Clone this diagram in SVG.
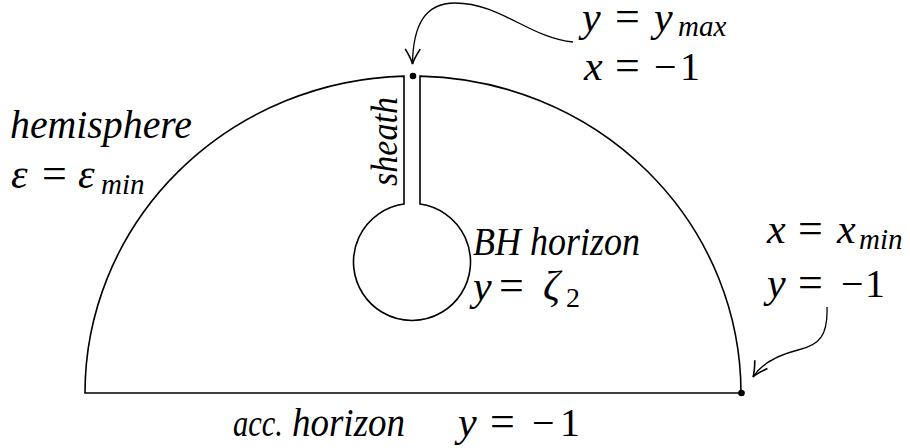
<svg xmlns="http://www.w3.org/2000/svg" width="910" height="448" viewBox="0 0 910 448">
<style>
text{font-family:"Liberation Serif",serif;font-size:40px;fill:#000}
.i{font-style:italic;font-size:42px}
.w{font-style:italic;font-size:40px}
.s{font-size:29px;font-style:italic}
.eq{font-size:44px}
.outline{fill:none;stroke:#000;stroke-width:1.6}
.conn{fill:none;stroke:#000;stroke-width:1.3}
</style>
<defs>
<marker id="ah" markerUnits="userSpaceOnUse" orient="auto" markerWidth="20" markerHeight="20" refX="0" refY="0" viewBox="-14 -8 16 16" overflow="visible">
<path d="M -12 -6 Q -4 -1 0 0 Q -4 1 -12 6" fill="none" stroke="#000" stroke-width="1.3"/>
</marker>
</defs>
<rect width="910" height="448" fill="#fff"/>
<g id="domain">
<path class="outline" d="M 85 393 A 328 317 0 0 1 404 76.1 L 404 204 A 58.5 58.5 0 1 0 420 204 L 420 76.1 A 328 317 0 0 1 741 393 Z"/>
<circle cx="413" cy="76" r="3.3"/>
<circle cx="741.5" cy="393" r="3.3"/>
</g>
<g id="connectors">
<path class="conn" d="M 573 42 C 530 38, 500 3, 455 3 C 425 3, 413 25, 412.5 64" marker-end="url(#ah)"/>
<path class="conn" d="M 827 307 C 828 335, 820 345, 798 350 C 778 355, 762 363, 753 377" marker-end="url(#ah)"/>
</g>
<g id="label-hemisphere">
<text class="w" x="10" y="138" textLength="182" lengthAdjust="spacingAndGlyphs">hemisphere</text>
<text y="188"><tspan class="i" x="11">ε</tspan><tspan class="eq" x="42">=</tspan><tspan class="i" x="78">ε</tspan><tspan class="s" x="101" y="194">min</tspan></text>
</g>
<g id="label-sheath">
<text class="w" transform="translate(397,186) rotate(-90)" x="0" y="0" textLength="89" lengthAdjust="spacingAndGlyphs" style="font-size:37px">sheath</text>
</g>
<g id="label-bh">
<text class="w" x="473" y="255" textLength="167" lengthAdjust="spacingAndGlyphs">BH horizon</text>
<text y="300"><tspan class="i" x="473">y</tspan><tspan class="eq" x="499">=</tspan><tspan class="i" x="543">ζ</tspan><tspan x="566" y="307" style="font-size:28px">2</tspan></text>
</g>
<g id="label-top">
<text y="31"><tspan class="i" x="582">y</tspan><tspan class="eq" x="615">=</tspan><tspan class="i" x="654">y</tspan><tspan class="s" x="678" y="36">max</tspan></text>
<text y="80"><tspan class="i" x="584">x</tspan><tspan class="eq" x="615">=</tspan><tspan x="654">−</tspan><tspan x="680">1</tspan></text>
</g>
<g id="label-right">
<text y="243"><tspan class="i" x="767">x</tspan><tspan class="eq" x="798">=</tspan><tspan class="i" x="837">x</tspan><tspan class="s" x="859" y="249">min</tspan></text>
<text y="297"><tspan class="i" x="767">y</tspan><tspan class="eq" x="798">=</tspan><tspan x="841">−</tspan><tspan x="865">1</tspan></text>
</g>
<g id="label-bottom">
<text class="w" x="233" y="436" textLength="50" lengthAdjust="spacingAndGlyphs" style="font-size:37px">acc.</text>
<text class="w" x="292" y="436" textLength="113" lengthAdjust="spacingAndGlyphs">horizon</text>
<text y="436"><tspan class="i" x="458">y</tspan><tspan class="eq" x="490">=</tspan><tspan x="532">−</tspan><tspan x="560">1</tspan></text>
</g>
</svg>
